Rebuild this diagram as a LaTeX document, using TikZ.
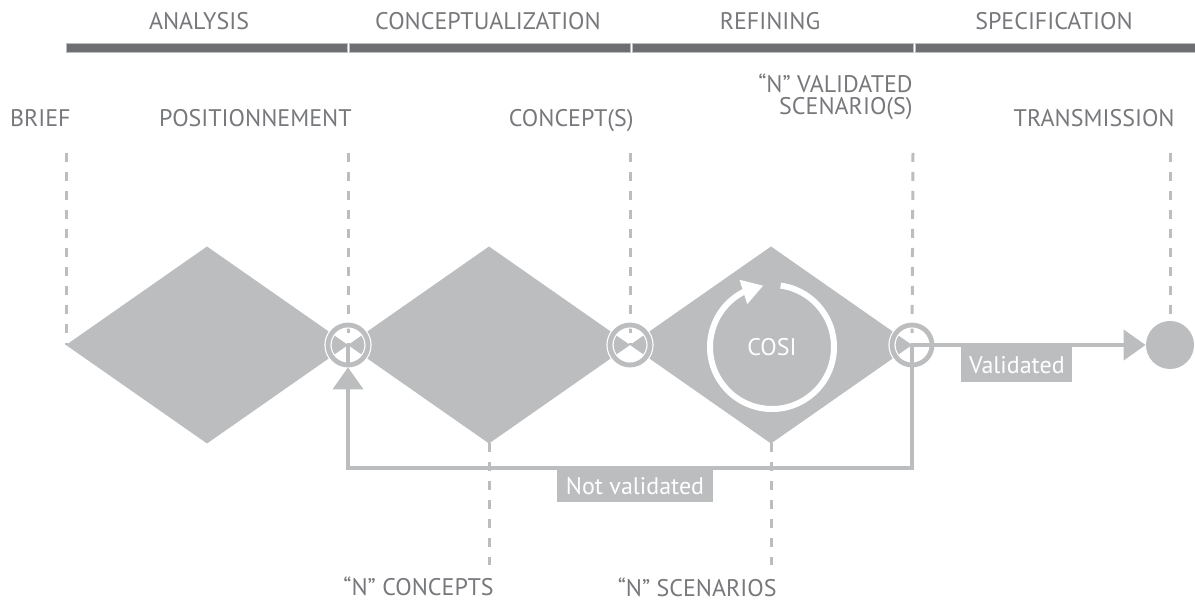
\documentclass[tikz,border=0pt]{standalone}
\usepackage{fontspec}
\setmainfont{PT Sans}
\usetikzlibrary{positioning, arrows.meta, bending, shapes.geometric, calc}
\definecolor{cosigray}{HTML}{BCBDBF}
\definecolor{bargray}{HTML}{6D6E71}
\definecolor{txtgray}{HTML}{77787B}
\tikzset{
    bar/.style={rectangle, fill=bargray, draw=cosigray, line width=0.4pt, inner sep=0pt, outer sep=0pt, minimum height=4.5pt},
    phasetext/.style={inner sep=0pt, text=txtgray, font=\fontsize{12}{11}\selectfont},
    milestone/.style={inner sep=0pt, text=txtgray, font=\fontsize{12}{11}\selectfont},
    phase/.style={diamond, fill=cosigray, inner sep=0pt, outer sep=0pt, minimum width=141pt, minimum height=98.5pt},
    junction/.style={circle, draw=cosigray, line width=2.4pt, inner sep=0pt, minimum size=20pt,
        preaction={draw=white, line width=3.6pt}},
    goal/.style={circle, fill=cosigray, inner sep=0pt, minimum size=24pt},
    guide/.style={draw=cosigray, line width=1.5pt, dash pattern=on 4.5pt off 5pt},
    flow/.style={draw=cosigray, line width=2pt},
    tip/.style={-{Triangle[length=11pt, width=15pt]}},
    tag/.style={fill=cosigray, text=white, inner sep=0pt, font=\fontsize{12}{12}\selectfont},
    cositext/.style={inner sep=0pt, text=white, font=\fontsize{12}{12}\selectfont},
    spin/.style={draw=white, line width=3pt, -{Triangle[length=10.5pt, width=12pt, flex]}},
}
\begin{document}
\begin{tikzpicture}[x=0.5pt, y=-0.5pt]
    \useasboundingbox (0,0) rectangle (1195,608);

    % phase bars
    \node[bar, minimum width=140.5pt] (bAna) at (206.5,47.5) {};
    \node[bar, minimum width=140.5pt, right=1pt of bAna] (bConc) {};
    \node[bar, minimum width=140.5pt, right=1pt of bConc] (bRef) {};
    \node[bar, minimum width=140.5pt, right=1pt of bRef] (bSpec) {};

    \node[phasetext, anchor=base] (tAna) at (199,30) {ANALYSIS};
    \node[phasetext, anchor=base] (tConc) at (488,30) {CONCEPTUALIZATION};
    \node[phasetext, anchor=base] (tRef) at (770,30) {REFINING};
    \node[phasetext, anchor=base] (tSpec) at (1054,30) {SPECIFICATION};

    % milestones
    \node[milestone, anchor=base east] (lBrief) at (71,127) {BRIEF};
    \node[milestone, anchor=base east] (lPos) at (352,127) {POSITIONNEMENT};
    \node[milestone, anchor=base east] (lConc) at (634,127) {CONCEPT(S)};
    \node[milestone, anchor=base east, align=right] (lVal) at (913,115) {“N” VALIDATED\\SCENARIO(S)};
    \node[milestone, anchor=base east] (lTrans) at (1175,127) {TRANSMISSION};
    \node[milestone, anchor=base east] (lNConc) at (494,596) {“N” CONCEPTS};
    \node[milestone, anchor=base east] (lNScen) at (777,597) {“N” SCENARIOS};

    % diamonds
    \node[phase] (d1) at (207,345) {};
    \node[phase, right=0pt of d1] (d2) {};
    \node[phase, right=0pt of d2] (d3) {};

    \coordinate (mBrief) at (66,153);
    \coordinate (mPos) at (348,153);
    \coordinate (mConc) at (630,153);
    \coordinate (mVal) at (913,153);
    \coordinate (mTrans) at (1170,153);
    \coordinate (mNConc) at (489,565);
    \coordinate (mNScen) at (771,565);

    \draw[guide] (mBrief) -- (d1.west);
    \draw[guide] (mPos) -- (d1.east);
    \draw[guide] (mConc) -- (d2.east);
    \draw[guide] (mVal) -- (d3.east);
    \draw[guide] (d2.south) -- (mNConc);
    \draw[guide] (d3.south) -- (mNScen);

    \node[junction] (j1) at (d1.east) {};
    \node[junction] (j2) at (d2.east) {};
    \node[junction] (j3) at (d3.east) {};
    \node[goal] (goal) at (1170,345) {};

    \draw[guide] (mTrans) -- (goal);

    % COSI loop
    \node[cositext] (cosi) at (772,347) {COSI};
    \draw[spin] ([shift={(82:31pt)}]cosi.center) arc[start angle=82, end angle=-262, radius=31pt];

    % validated / not validated
    \coordinate (fbBase) at (630,468);
    \draw[flow, tip] (j3.center) -- (goal);
    \draw[flow, tip] (j3.center) -- (j3.center |- fbBase) -| (j1);
    \draw[flow] (j1.south) -- (j1.center);

    \node[tag, minimum width=55.5pt, minimum height=17.5pt, anchor=north west] (tVal) at (961,347) {Validated};
    \node[tag, minimum width=78pt, minimum height=16pt, anchor=north] (tNot) at (635,470) {Not validated};
\end{tikzpicture}
\end{document}
